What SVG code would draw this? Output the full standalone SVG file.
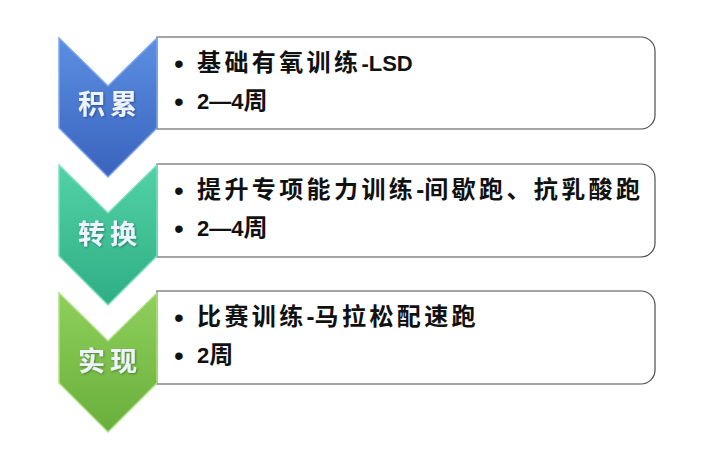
<svg xmlns="http://www.w3.org/2000/svg" width="724" height="453" viewBox="0 0 724 453">
<style>
.box{fill:#ffffff;stroke:#4d4d4d;stroke-width:1.2}
.lbl{font-family:"Noto Sans CJK SC","Liberation Sans",sans-serif;font-size:27px;font-weight:bold;letter-spacing:5px;fill:#eef4ff}
.txt{font-family:"Liberation Sans","Noto Sans CJK SC",sans-serif;font-size:24px;font-weight:bold;letter-spacing:3.4px;fill:#111111}
.lat{font-size:22px;letter-spacing:0}
.bul{font-family:"Liberation Sans",sans-serif;font-size:28px;fill:#111111}
.chev{stroke-width:1.5}
</style>
<defs>
<linearGradient id="gBlue" x1="0" y1="0" x2="0" y2="1">
<stop offset="0" stop-color="#5b8fe2"/><stop offset="1" stop-color="#3a63bd"/>
</linearGradient>
<linearGradient id="gTeal" x1="0" y1="0" x2="0" y2="1">
<stop offset="0" stop-color="#52d2a6"/><stop offset="1" stop-color="#2fae85"/>
</linearGradient>
<linearGradient id="gGreen" x1="0" y1="0" x2="0" y2="1">
<stop offset="0" stop-color="#8fd05b"/><stop offset="1" stop-color="#69ae3b"/>
</linearGradient>
<filter id="sh" x="-10%" y="-10%" width="130%" height="130%">
<feDropShadow dx="1" dy="1" stdDeviation="0.8" flood-color="#000" flood-opacity="0.35"/>
</filter>
</defs>
<rect width="724" height="453" fill="#ffffff"/>

<g id="stage1">
<path class="box" d="M157,37 H641 A14,14 0 0 1 655,51 V115 A14,14 0 0 1 641,129 H157 Z"/>
<path class="chev" fill="url(#gBlue)" stroke="#7ea6ea" d="M59,38 L108,86 L157,38 L157,128 L108,177 L59,128 Z"/>
<text class="lbl" x="78" y="114" filter="url(#sh)">积累</text>
<text class="bul" x="174" y="73">•</text>
<text class="txt" x="197" y="71">基础有氧训练<tspan class="lat">-LSD</tspan></text>
<text class="bul" x="174" y="111">•</text>
<text class="txt" x="197" y="109"><tspan class="lat">2—4</tspan>周</text>
</g>

<g id="stage2">
<path class="box" d="M157,164 H641 A14,14 0 0 1 655,178 V243 A14,14 0 0 1 641,257 H157 Z"/>
<path class="chev" fill="url(#gTeal)" stroke="#7fe0bf" d="M59,165 L108,213 L157,165 L157,256 L108,305 L59,256 Z"/>
<text class="lbl" x="78" y="244" filter="url(#sh)">转换</text>
<text class="bul" x="174" y="200">•</text>
<text class="txt" x="197" y="198">提升专项能力训练<tspan letter-spacing="0">-</tspan>间歇跑、抗乳酸跑</text>
<text class="bul" x="174" y="238">•</text>
<text class="txt" x="197" y="236"><tspan class="lat">2—4</tspan>周</text>
</g>

<g id="stage3">
<path class="box" d="M157,291 H641 A14,14 0 0 1 655,305 V370 A14,14 0 0 1 641,384 H157 Z"/>
<path class="chev" fill="url(#gGreen)" stroke="#b0e08a" d="M59,293 L108,341 L157,293 L157,383 L108,432 L59,383 Z"/>
<text class="lbl" x="78" y="371" filter="url(#sh)">实现</text>
<text class="bul" x="174" y="327">•</text>
<text class="txt" x="197" y="325">比赛训练<tspan letter-spacing="0">-</tspan>马拉松配速跑</text>
<text class="bul" x="174" y="365">•</text>
<text class="txt" x="197" y="363"><tspan class="lat">2</tspan>周</text>
</g>
</svg>
